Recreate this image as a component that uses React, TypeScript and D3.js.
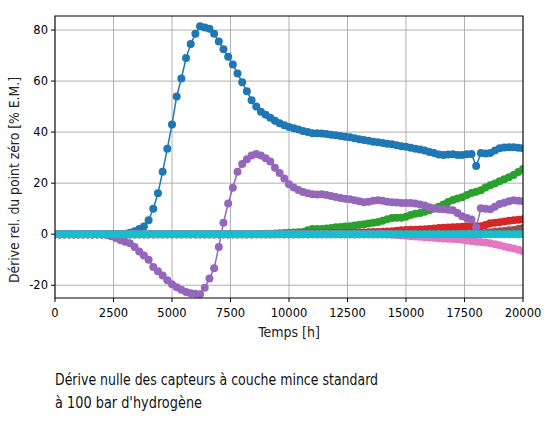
import * as d3 from 'd3';

// sampling times [h], every 200 h
const TIMES = [
  0, 200, 400, 600, 800, 1000, 1200, 1400, 1600, 1800,
  2000, 2200, 2400, 2600, 2800, 3000, 3200, 3400, 3600, 3800,
  4000, 4200, 4400, 4600, 4800, 5000, 5200, 5400, 5600, 5800,
  6000, 6200, 6400, 6600, 6800, 7000, 7200, 7400, 7600, 7800,
  8000, 8200, 8400, 8600, 8800, 9000, 9200, 9400, 9600, 9800,
  10000, 10200, 10400, 10600, 10800, 11000, 11200, 11400, 11600, 11800,
  12000, 12200, 12400, 12600, 12800, 13000, 13200, 13400, 13600, 13800,
  14000, 14200, 14400, 14600, 14800, 15000, 15200, 15400, 15600, 15800,
  16000, 16200, 16400, 16600, 16800, 17000, 17200, 17400, 17600, 17800,
  18000, 18200, 18400, 18600, 18800, 19000, 19200, 19400, 19600, 19800,
  20000,
];

const BLUE = [
  0, 0, 0, 0, 0, 0, 0, 0, 0, 0,
  0, 0, 0, 0, 0, 0.2, 0.6, 1.2, 2.0, 3.0,
  5.5, 10, 16, 24.5, 33.5, 43, 54, 61, 69, 74.5,
  78.5, 81.5, 81, 80.5, 78.5, 75.5, 72.5, 69.5, 66.5, 63,
  59.5, 56, 52.5, 50, 48, 46.8, 45.6, 44.5, 43.5, 42.7,
  42, 41.5, 41, 40.4, 40, 39.6, 39.6, 39.5, 39.3, 39,
  38.8, 38.5, 38.2, 38, 37.6, 37.2, 36.9, 36.6, 36.2, 36,
  35.7, 35.4, 35.2, 34.9, 34.5, 34.3, 33.9, 33.5, 33.2, 32.8,
  32.2, 31.8, 31.2, 31, 31.2, 31.3, 31, 31, 31.3, 31.4,
  26.7, 31.8, 31.6, 31.8, 32.8, 33.7, 34, 34.1, 34.1, 33.9,
  33.7,
];

const GREEN = [
  0, 0, 0, 0, 0, 0, 0, 0, 0, 0,
  0, 0, 0, 0, 0, 0, 0, 0, 0, 0,
  0, 0, 0, 0, 0, 0, 0, 0, 0, 0,
  0, 0, 0, 0, 0, 0, 0, 0, 0, 0,
  0, 0, 0, 0.1, 0.1, 0.2, 0.2, 0.3, 0.4, 0.5,
  0.6, 0.7, 0.8, 0.9, 1.5, 2, 2, 2, 2.2, 2.4,
  2.7, 2.8, 3, 3.1, 3.4, 3.7, 3.9, 4.2, 4.5, 4.8,
  5.3, 5.9, 6.3, 6.4, 6.4, 6.8, 7.5, 8, 8.3, 8.8,
  9.4, 10.1, 10.8, 11.6, 12.6, 13.4, 14, 14.5, 15.4, 16.1,
  16.6, 17.2, 18.3, 19.2, 19.9, 20.7, 21.5, 22.3, 23.2, 24.4,
  25.5,
];

const RED = [
  0, 0, 0, 0, 0, 0, 0, 0, 0, 0,
  0, 0, 0, 0, 0, 0, 0, 0, 0, 0,
  0, 0, 0, 0, 0, 0, 0, 0, 0, 0,
  0, 0, 0, 0, 0, 0, 0, 0, 0, 0,
  0, 0, 0, 0, 0, 0, 0, 0.1, 0.1, 0.2,
  0.2, 0.3, 0.3, 0.3, 0.4, 0.4, 0.4, 0.4, 0.5, 0.5,
  0.5, 0.5, 0.6, 0.6, 0.6, 0.7, 0.7, 0.8, 0.9, 0.9,
  1, 1.1, 1.2, 1.4, 1.5, 1.6, 1.7, 1.7, 1.8, 1.9,
  2, 2.2, 2.4, 2.5, 2.6, 2.7, 2.8, 2.9, 3.1, 3.1,
  3.1, 3.1, 3.6, 4.3, 4.5, 4.7, 5, 5.3, 5.5, 5.7,
  5.9,
];

const PURPLE = [
  0, 0, 0, 0, 0, 0, 0, 0, 0, 0,
  0, -0.3, -0.8, -1.5, -2.4, -3, -3.5, -5, -6.8, -8.3,
  -10, -12.9, -14.5, -16.2, -18, -19.6, -20.8, -21.8, -22.6, -23.1,
  -23.3, -23.5, -21, -17.4, -13.3, -5, 4.5, 12, 18.2, 24.5,
  27.5, 29.4, 30.8, 31.4, 30.8, 29.8, 28.5, 26, 24, 21.8,
  19.6, 18.3, 17.3, 16.5, 16, 15.7, 15.6, 15.7, 15.4, 15,
  14.6, 14.2, 13.9, 13.7, 13.3, 12.9, 12.5, 12.7, 13.1, 13.3,
  13.1, 12.7, 12.5, 12.4, 12.2, 12.2, 12.2, 12, 11.6, 11.2,
  10.6, 10.1, 9.9, 9.8, 9.6, 9.4, 8.3, 7, 6.3, 5.8,
  2.7, 10.2, 10, 9.8, 10.8, 11.8, 12.3, 12.9, 13.3, 13.1,
  12.9,
];

const BROWN = [
  0, 0, 0, 0, 0, 0, 0, 0, 0, 0,
  0, 0, 0, 0, 0, 0, 0, 0, 0, 0,
  0, 0, 0, 0, 0, 0, 0, 0, 0, 0,
  0, 0, 0, 0, 0, 0, 0, 0, 0, 0,
  0, 0, 0, 0, 0, 0, 0, 0, 0, 0,
  0, 0, 0, 0, 0, 0, 0, 0, 0, 0,
  0, 0, 0, 0, 0, 0, 0, 0, 0, 0,
  0, 0, 0, 0, 0, 0, 0, 0, 0, 0,
  0, 0, 0, 0, 0, 0, 0, 0, 0.1, 0.1,
  0, 0.2, 0.5, 0.8, 1, 1.2, 1.3, 1.5, 1.6, 2,
  2.4,
];

const PINK = [
  0, 0, 0, 0, 0, 0, 0, 0, 0, 0,
  0, 0, 0, 0, 0, 0, 0, 0, 0, 0,
  0, 0, 0, 0, 0, 0, 0, 0, 0, 0,
  0, 0, 0, 0, 0, 0, 0, 0, 0, 0,
  0, 0, 0, 0, 0, 0, 0, 0, 0, 0,
  0, 0, 0, 0, 0, 0, 0, 0, 0, 0,
  0, 0, 0, 0, 0, 0, 0, 0, 0, 0,
  0, -0.1, -0.2, -0.3, -0.5, -0.6, -0.8, -0.9, -1, -1.2,
  -1.3, -1.4, -1.6, -1.7, -1.8, -1.9, -2, -2.2, -2.5, -2.7,
  -3, -3.1, -3.3, -3.5, -3.9, -4.3, -4.8, -5.2, -5.6, -6.1,
  -6.7,
];

const CYAN = [
  0, 0, 0, 0, 0, 0, 0, 0, 0, 0,
  0, 0, 0, 0, 0, 0, 0, 0, 0, 0,
  0, 0, 0, 0, 0, 0, 0, 0, 0, 0,
  0, 0, 0, 0, 0, 0, 0, 0, 0, 0,
  0, 0, 0, 0, 0, 0, 0, 0, 0, 0,
  0, 0, 0, 0, 0, 0, 0, 0, 0, 0,
  0, 0, 0, 0, 0, 0, 0, 0, 0, 0,
  0, 0, 0, 0, 0, 0, 0, 0, 0, 0,
  0, 0, 0, 0, 0, 0, 0, 0, 0, 0,
  0, 0, 0, 0, 0, 0, 0, 0, 0, 0,
  0,
];

// draw order follows matplotlib's colour cycle
const SERIES = [
  { name: 'C0', color: '#1f77b4', values: BLUE },
  { name: 'C2', color: '#2ca02c', values: GREEN },
  { name: 'C3', color: '#d62728', values: RED },
  { name: 'C4', color: '#9467bd', values: PURPLE },
  { name: 'C5', color: '#8c564b', values: BROWN },
  { name: 'C6', color: '#e377c2', values: PINK },
  { name: 'C9', color: '#17becf', values: CYAN },
];

const X_TICKS = [0, 2500, 5000, 7500, 10000, 12500, 15000, 17500, 20000];
const Y_TICKS = [-20, 0, 20, 40, 60, 80];

const X_LABEL = 'Temps [h]';
const Y_LABEL = 'Dérive rel. du point zéro [% E.M.]';
const CAPTION = [
  'Dérive nulle des capteurs à couche mince standard',
  "à 100 bar d'hydrogène",
];

const W = 554;
const H = 422;
const M = { left: 55, right: 523, top: 16, bottom: 298 };

export default function App() {
  const x = d3.scaleLinear().domain([0, 20000]).range([M.left, M.right]);
  const y = d3.scaleLinear().domain([-25, 85.5]).range([M.bottom, M.top]);

  const line = d3
    .line<number>()
    .x((_, i) => x(TIMES[i]))
    .y((d) => y(d));

  const tickFont = '"DejaVu Sans", sans-serif';
  const labelFont = '"Liberation Sans Narrow", "DejaVu Sans Condensed", "Open Sans", sans-serif';

  return (
    <div style={{ position: 'absolute', left: 0, top: 0 }}>
      <svg width={W} height={H} style={{ display: 'block', background: '#fff' }}>
        <defs>
          <clipPath id="plot">
            <rect x={M.left} y={M.top} width={M.right - M.left} height={M.bottom - M.top} />
          </clipPath>
        </defs>

        {/* grid */}
        <g stroke="#b0b0b0" strokeWidth={1}>
          {X_TICKS.map((t) => (
            <line key={'gx' + t} x1={x(t)} x2={x(t)} y1={M.top} y2={M.bottom} />
          ))}
          {Y_TICKS.map((t) => (
            <line key={'gy' + t} x1={M.left} x2={M.right} y1={y(t)} y2={y(t)} />
          ))}
        </g>

        {/* series */}
        <g clipPath="url(#plot)">
          {SERIES.map((s) => (
            <g key={s.name}>
              <path d={line(s.values) || ''} fill="none" stroke={s.color} strokeWidth={1.5} />
              {s.values.map((v, i) => (
                <circle key={i} cx={x(TIMES[i])} cy={y(v)} r={4} fill={s.color} />
              ))}
            </g>
          ))}
        </g>

        {/* frame */}
        <rect
          x={M.left}
          y={M.top}
          width={M.right - M.left}
          height={M.bottom - M.top}
          fill="none"
          stroke="#000"
          strokeWidth={1}
        />

        {/* x axis */}
        <g fontFamily={tickFont} fontSize={11.5} fill="#000">
          {X_TICKS.map((t) => (
            <g key={'xt' + t}>
              <line x1={x(t)} x2={x(t)} y1={M.bottom} y2={M.bottom + 4} stroke="#000" />
              <text x={x(t)} y={M.bottom + 19} textAnchor="middle">
                {t}
              </text>
            </g>
          ))}
          {Y_TICKS.map((t) => (
            <g key={'yt' + t}>
              <line x1={M.left - 4} x2={M.left} y1={y(t)} y2={y(t)} stroke="#000" />
              <text x={M.left - 7} y={y(t) + 4} textAnchor="end">
                {t}
              </text>
            </g>
          ))}
        </g>

        <text
          x={(M.left + M.right) / 2}
          y={337}
          textAnchor="middle"
          fontFamily={labelFont}
          fontSize={14}
          fill="#222"
        >
          {X_LABEL}
        </text>

        <text
          transform={`translate(19,180) rotate(-90)`}
          textAnchor="middle"
          fontFamily={labelFont}
          fontSize={14}
          fill="#222"
          textLength={206}
          lengthAdjust="spacingAndGlyphs"
        >
          {Y_LABEL}
        </text>

        {CAPTION.map((c, i) => (
          <text
            key={i}
            x={55}
            y={385 + i * 23}
            fontFamily={labelFont}
            fontSize={16}
            fill="#111"
            textLength={i === 0 ? 323 : 147}
            lengthAdjust="spacingAndGlyphs"
          >
            {c}
          </text>
        ))}
      </svg>
    </div>
  );
}
